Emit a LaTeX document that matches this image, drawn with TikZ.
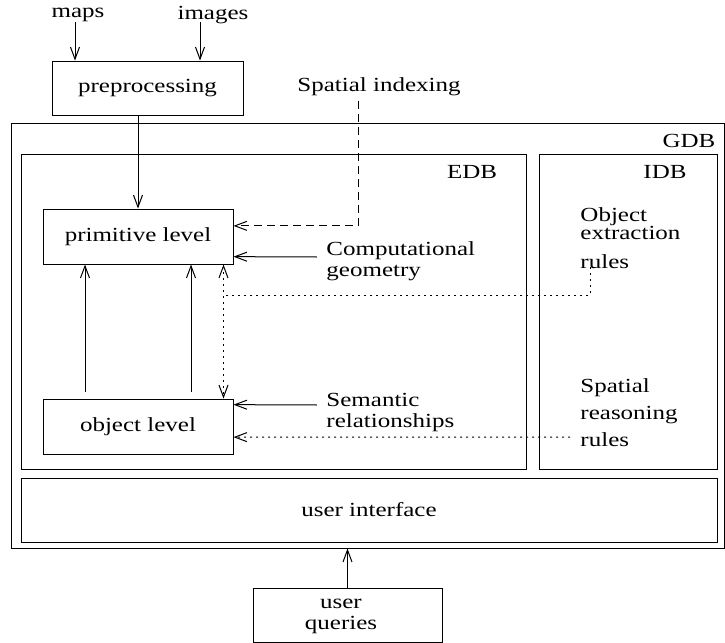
\documentclass[tikz,border=0pt]{standalone}
\usepackage{fontspec}
\setmainfont{Liberation Serif}[FakeStretch=1.25]
\usetikzlibrary{arrows.meta,calc}
\tikzset{
	box/.style={draw, line width=.5pt, inner sep=0pt, align=center},
	lbl/.style={inner sep=0pt, align=left, anchor=west},
	dashline/.style={dash pattern=on 4pt off 2.5pt},
	dotline/.style={dash pattern=on 1pt off 2pt},
}
\begin{document}
\begin{tikzpicture}[x=.5pt, y=-.5pt, >={Straight Barb[length=6pt,width=4.5pt]},
	line width=.5pt, font=\fontsize{10}{10.5}\selectfont]
	\useasboundingbox (0,0) rectangle (725,643);
	% boxes
	\node[box, minimum width=356.5pt, minimum height=212.5pt] (gdb) at (367.5,335.5) {};
	\node[box, minimum width=252.5pt, minimum height=157.5pt] (edb) at (273.5,311.5) {};
	\node[box, minimum width=89pt, minimum height=157.5pt] (idb) at (628,311.5) {};
	\node[box, minimum width=348pt, minimum height=32pt] (ui) at (369,510) {user interface};
	\node[box, minimum width=95.5pt, minimum height=27pt] (prep) at (147.5,88) {preprocessing};
	\node[box, minimum width=95pt, minimum height=27.5pt] (prim) at (138,236.5) {primitive level};
	\node[box, minimum width=95pt, minimum height=27.5pt] (obj) at (138,426.5) {object level};
	\node[box, minimum width=94.5pt, minimum height=27pt] (uq) at (347.5,615) {};
	% texts
	\node[align=center] (uqtext) at (341,616) {user\\queries};
	\node (maps) at (78,15) {maps};
	\node (images) at (213,15) {images};
	\node (idx) at (379,87) {Spatial indexing};
	\node (gdblbl) at (689,141) {GDB};
	\node (edblbl) at (472,172) {EDB};
	\node (idblbl) at (665,172) {IDB};
	\node[lbl] (comp) at (326,261) {Computational\\geometry};
	\node[lbl] (sem) at (326,413) {Semantic\\relationships};
	\node[lbl] (oer) at (580,238) {Object\\[-1.5pt]extraction\\[4pt]rules};
	\node[lbl] (srr) at (580,413) {Spatial\\[3pt]reasoning\\[3pt]rules};
	% ve diem
	\path
	(75,22) coordinate (M)
	(200,22) coordinate (I)
	(358,101) coordinate (S)
	(317,257) coordinate (C)
	(317,405) coordinate (R)
	(590,267) coordinate (X)
	(570,437) coordinate (Y)
	(85,392) coordinate (U1)
	(191,392) coordinate (U2)
	($(prim.south east)+(-5pt,0)$) coordinate (P)
	($(obj.north east)+(-5pt,0)$) coordinate (Q)
	($(P)!.23!(Q)$) coordinate (T)
	;
	% arrows
	\draw[->] (M) -- (M |- prep.north);
	\draw[->] (I) -- (I |- prep.north);
	\draw[->] (prep.south -| prim.north) -- (prim.north);
	\draw[->, dashline] (S) |- ($(prim.north east)!.31!(prim.south east)$);
	\draw[->] (C) -- ($(prim.north east)!.86!(prim.south east)$);
	\draw[->] (R) -- ($(obj.north east)!.11!(obj.south east)$);
	\draw[->, dotline] (Y) -- ($(obj.north east)!.69!(obj.south east)$);
	\draw[<->, dotline] (P) -- (Q);
	\draw[dotline] (X) |- (T);
	\foreach \u in {U1,U2}{
		\draw[->] (\u) -- (\u |- prim.south);}
	\draw[->] (uq.north) -- (uq.north |- gdb.south);
\end{tikzpicture}
\end{document}
